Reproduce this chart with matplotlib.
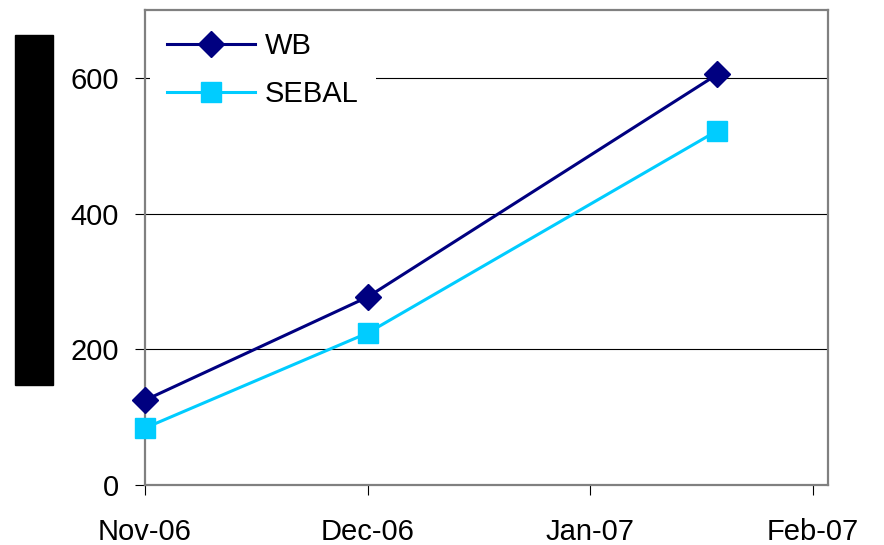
import matplotlib.pyplot as plt
import matplotlib.patches as mpatches
import numpy as np

plt.rcParams['font.family'] = ['Liberation Sans', 'DejaVu Sans']

# data (x in months since Nov-06)
months = [0, 1, 2.57]
wb = [125, 277, 605]
sebal = [84, 224, 522]
tick_pos = [0, 1, 2, 3]
tick_labels = ["Nov-06", "Dec-06", "Jan-07", "Feb-07"]
y_ticks = [0, 200, 400, 600]

fig = plt.figure(figsize=(8.84, 5.45), dpi=100)
ax = fig.add_axes([145/884, 1 - 485/545, (828-145)/884, (485-10)/545])

ax.plot(months, wb, color='#000080', lw=2.2, marker='D', ms=13, label='WB',
        zorder=3, clip_on=False)
ax.plot(months, sebal, color='#00CCFF', lw=2.2, marker='s', ms=14, label='SEBAL',
        zorder=3, clip_on=False)

ax.set_ylim(0, 700)
ax.set_xlim(0, 3.068)
ax.set_yticks(y_ticks)
ax.set_xticks(tick_pos)
ax.set_xticklabels(tick_labels)
ax.tick_params(axis='both', labelsize=21, direction='out', length=7, width=0.8, color='black')
ax.tick_params(axis='y', pad=12)
ax.tick_params(axis='x', pad=17)

for yv in y_ticks[1:]:
    ax.axhline(yv, color='black', lw=0.8, zorder=1)

for s in ax.spines.values():
    s.set_color('#808080')
    s.set_linewidth(1.6)

leg = ax.legend(loc='upper left', bbox_to_anchor=(0.007, 0.99), borderaxespad=0,
                fontsize=21, frameon=True, fancybox=False, handlelength=3,
                handletextpad=0.35, labelspacing=0.68, borderpad=0.6)
leg.get_frame().set_edgecolor('none')
leg.get_frame().set_facecolor('white')
leg.get_frame().set_alpha(1)
leg.set_zorder(5)

# redacted y-axis label block
fig.patches.append(mpatches.Rectangle((15/884, 1 - 385/545), 38/884, 350/545,
                                      transform=fig.transFigure, color='black'))

plt.savefig("out.png", dpi=100)
